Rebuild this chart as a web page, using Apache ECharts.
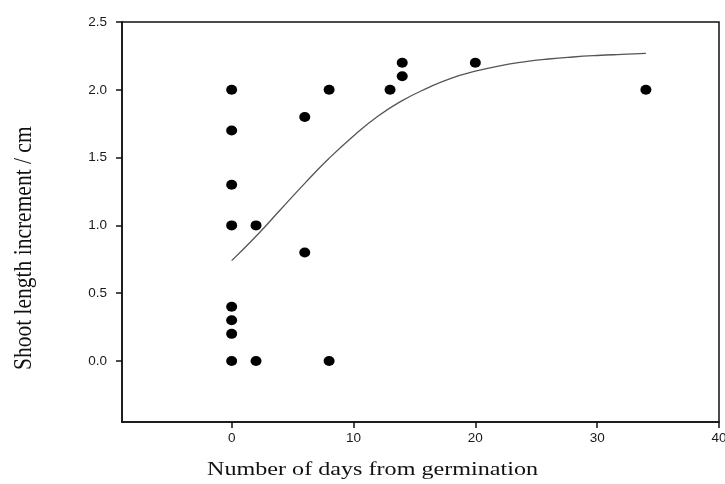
<!DOCTYPE html>
<html>
<head>
<meta charset="utf-8">
<script src="https://cdn.jsdelivr.net/npm/echarts@6/dist/echarts.min.js"></script>
<style>
html, body { margin: 0; padding: 0; background: #fff; }
#main { width: 725px; height: 484px; }
</style>
</head>
<body>
<div id="main"></div>
<script>
// observed points (days, increment in cm)
var daysObs = [0, 0, 0, 0, 0, 0, 0, 0, 2, 2, 6, 6, 8, 8, 13, 14, 14, 20, 34];
var shootObs = [2.0, 1.7, 1.3, 1.0, 0.4, 0.3, 0.2, 0.0, 1.0, 0.0, 1.8, 0.8, 2.0, 0.0, 2.0, 2.2, 2.1, 2.2, 2.0];

// fitted curve
var daysFit = [0, 2, 4, 6, 8, 10, 12, 14, 16, 18, 20, 22, 24, 26, 28, 30, 32, 34];
var shootFit = [0.74, 0.92, 1.115, 1.31, 1.495, 1.66, 1.805, 1.92, 2.01, 2.085, 2.137, 2.177, 2.206, 2.227, 2.242, 2.253, 2.261, 2.268];

var xTicks = [0, 10, 20, 30, 40];
var yTicks = [0, 0.5, 1.0, 1.5, 2.0, 2.5];

var chart = echarts.init(document.getElementById('main'));

var pts = [];
for (var i = 0; i < daysObs.length; i++) {
    pts.push([daysObs[i], shootObs[i]]);
}
var fit = [];
for (var j = 0; j < daysFit.length; j++) {
    fit.push([daysFit[j], shootFit[j]]);
}

var labelStyle = {
    color: '#1a1a1a',
    fontFamily: '"Liberation Sans", Arial, sans-serif',
    fontSize: 13.5
};
var axisColor = '#111';

chart.setOption({
    animation: false,
    grid: {
        left: 122,
        right: 6,
        top: 22,
        bottom: 62,
        outerBoundsMode: 'none',
        containLabel: false,
        show: true,
        borderColor: axisColor,
        borderWidth: 1.5
    },
    xAxis: {
        type: 'value',
        min: -9,
        max: 40,
        splitLine: { show: false },
        axisLine: { show: true, onZero: false, lineStyle: { color: axisColor, width: 1.5 } },
        axisTick: { show: true, customValues: xTicks, length: 6, lineStyle: { color: axisColor, width: 1.5 } },
        axisLabel: Object.assign({ customValues: xTicks, margin: 9, hideOverlap: false }, labelStyle)
    },
    yAxis: {
        type: 'value',
        min: -0.45,
        max: 2.5,
        splitLine: { show: false },
        axisLine: { show: true, onZero: false, lineStyle: { color: axisColor, width: 1.5 } },
        axisTick: { show: true, customValues: yTicks, length: 6, lineStyle: { color: axisColor, width: 1.5 } },
        axisLabel: Object.assign({
            customValues: yTicks,
            margin: 15,
            formatter: function (v) { return v.toFixed(1); }
        }, labelStyle)
    },
    graphic: [{
        type: 'text',
        x: 207,
        y: 461,
        scaleX: 1.27,
        style: {
            text: 'Number of days from germination',
            fill: '#111',
            font: '19px "Liberation Serif", "Times New Roman", serif'
        }
    }, {
        type: 'text',
        x: 11,
        y: 370,
        rotation: Math.PI / 2,
        scaleY: 1.2,
        style: {
            text: 'Shoot length increment / cm',
            fill: '#111',
            font: '21.5px "Liberation Serif", "Times New Roman", serif'
        }
    }],
    series: [{
        type: 'line',
        data: fit,
        smooth: true,
        showSymbol: false,
        lineStyle: { color: '#555', width: 1.3 },
        z: 2
    }, {
        type: 'scatter',
        data: pts,
        symbol: 'circle',
        symbolSize: [11, 10],
        itemStyle: { color: '#000', opacity: 1 },
        z: 3
    }]
});
</script>
</body>
</html>
